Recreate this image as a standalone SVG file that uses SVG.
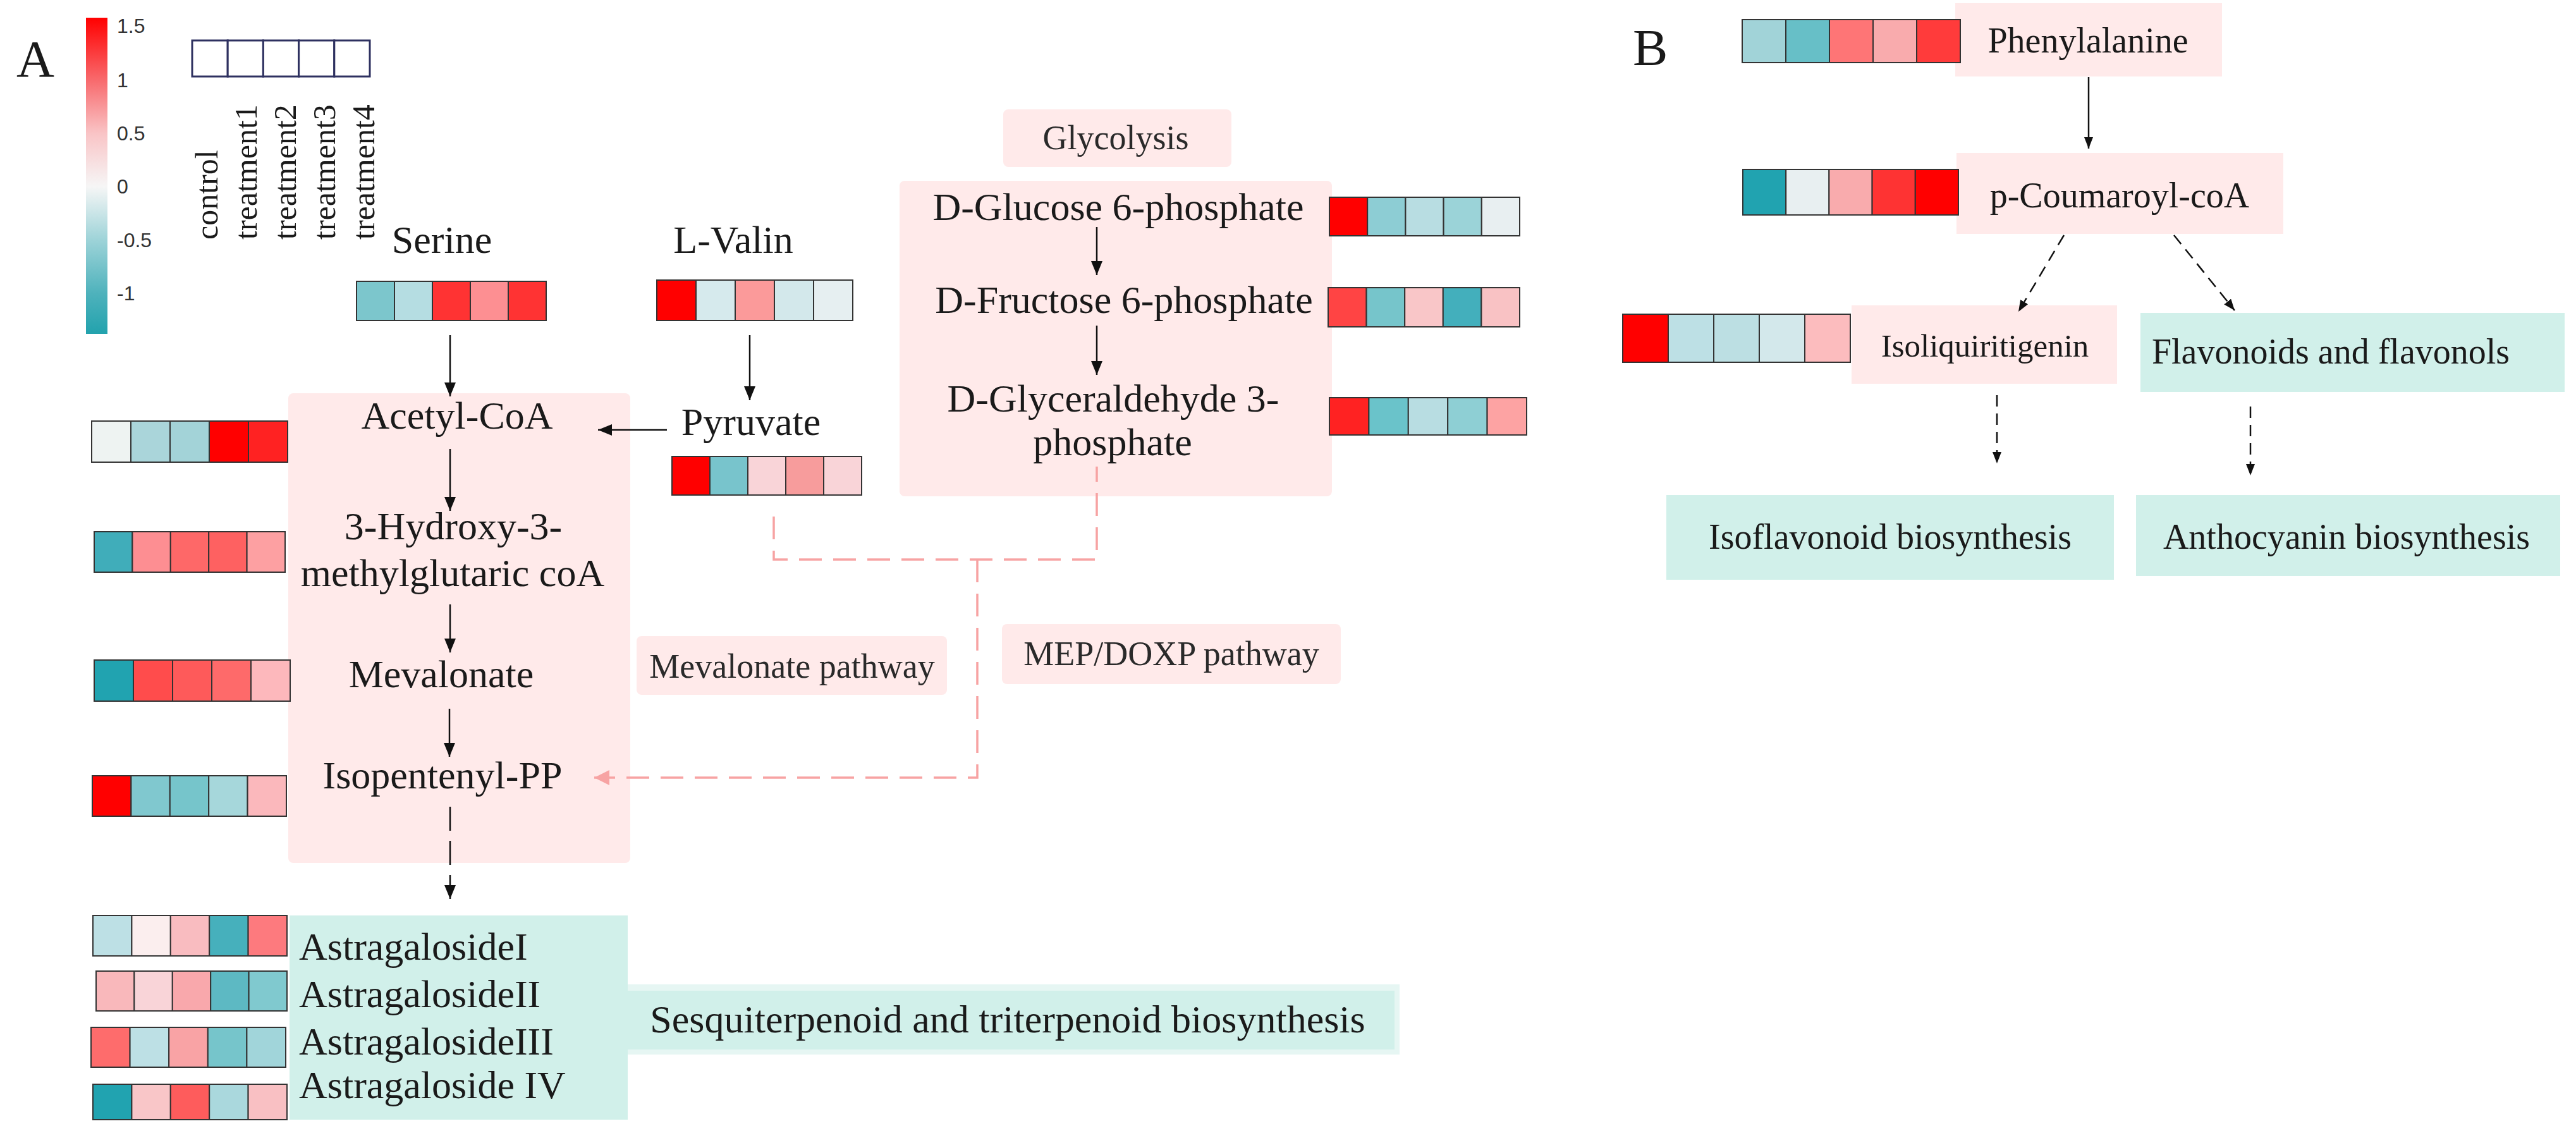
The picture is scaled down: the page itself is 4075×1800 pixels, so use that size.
<svg xmlns="http://www.w3.org/2000/svg" width="4075" height="1800" viewBox="0 0 4075 1800">
<defs>
<linearGradient id="cbar" x1="0" y1="0" x2="0" y2="1">
<stop offset="0" stop-color="#ff0000"/>
<stop offset="0.198" stop-color="#f86a6d"/>
<stop offset="0.366" stop-color="#f9c4c6"/>
<stop offset="0.534" stop-color="#f6f6f6"/>
<stop offset="0.704" stop-color="#9dd3d8"/>
<stop offset="0.872" stop-color="#4eb2bc"/>
<stop offset="1" stop-color="#22a2ad"/>
</linearGradient>
<marker id="ah" markerUnits="userSpaceOnUse" markerWidth="22" markerHeight="18" refX="22" refY="9" orient="auto">
<path d="M0,0 L22,9 L0,18 z" fill="#111"/>
</marker>
<marker id="ahs" markerUnits="userSpaceOnUse" markerWidth="18" markerHeight="14" refX="18" refY="7" orient="auto">
<path d="M0,0 L18,7 L0,14 z" fill="#111"/>
</marker>
<marker id="ahp" markerUnits="userSpaceOnUse" markerWidth="24" markerHeight="24" refX="24" refY="12" orient="auto">
<path d="M0,0 L24,12 L0,24 z" fill="#f7a3a3"/>
</marker>
</defs>
<style>
.t{font-family:"Liberation Serif","Times New Roman",serif;fill:#1a1a1a;}
.m{font-size:62px;text-anchor:middle;}
.ms{font-size:62px;}
.p{font-size:54px;text-anchor:middle;fill:#2a2a2a;}
.b{font-size:56px;text-anchor:middle;}
.lg{font-size:50px;}
.tick{font-family:"Liberation Sans",Arial,sans-serif;font-size:32px;fill:#333;}
.pink{fill:#ffeaea;}
.teal{fill:#d1f0ea;}
.hm rect{stroke:#333;stroke-width:2;}
.ar{stroke:#111;stroke-width:2.5;fill:none;}
.dar{stroke:#111;stroke-width:2.5;fill:none;stroke-dasharray:38 16;}
.dsm{stroke:#111;stroke-width:2.5;fill:none;stroke-dasharray:18 11;}
.pd{stroke:#f7a3a3;stroke-width:3.5;fill:none;stroke-dasharray:36 18;}
</style>
<rect x="0" y="0" width="4075" height="1800" fill="#ffffff"/>

<!-- Panel labels -->
<text class="t" x="26" y="121" font-size="83">A</text>
<text class="t" x="2583" y="103" font-size="83">B</text>

<!-- Legend -->
<g id="legend">
<rect x="136" y="28" width="34" height="500" fill="url(#cbar)"/>
<text class="tick" x="185" y="52">1.5</text>
<text class="tick" x="185" y="138">1</text>
<text class="tick" x="185" y="222">0.5</text>
<text class="tick" x="185" y="306">0</text>
<text class="tick" x="185" y="391">-0.5</text>
<text class="tick" x="185" y="475">-1</text>
<g fill="#ffffff" stroke="#2e3160" stroke-width="3">
<rect x="304" y="64" width="56.2" height="57"/>
<rect x="360.2" y="64" width="56.2" height="57"/>
<rect x="416.4" y="64" width="56.2" height="57"/>
<rect x="472.6" y="64" width="56.2" height="57"/>
<rect x="528.8" y="64" width="56.2" height="57"/>
</g>
<text class="t lg" transform="translate(344,379) rotate(-90)">control</text>
<text class="t lg" transform="translate(406,379) rotate(-90)">treatment1</text>
<text class="t lg" transform="translate(468,379) rotate(-90)">treatment2</text>
<text class="t lg" transform="translate(530,379) rotate(-90)">treatment3</text>
<text class="t lg" transform="translate(592,379) rotate(-90)">treatment4</text>
</g>

<!-- Background boxes -->
<g id="mevalonate-box"><rect class="pink" x="456" y="622" width="541" height="743" rx="8"/></g>
<g id="glycolysis-box"><rect class="pink" x="1423" y="286" width="684" height="499" rx="8"/></g>
<g id="astragaloside-box"><rect class="teal" x="458" y="1448" width="535" height="323"/></g>

<!-- Serine -->
<g id="serine">
<text class="t m" x="699" y="400">Serine</text>
<g class="hm">
<rect x="564" y="445" width="60" height="62" fill="#7cc6cc"/>
<rect x="624" y="445" width="60" height="62" fill="#b5dde2"/>
<rect x="684" y="445" width="60" height="62" fill="#ff3333"/>
<rect x="744" y="445" width="60" height="62" fill="#fd8f92"/>
<rect x="804" y="445" width="60" height="62" fill="#ff3333"/>
</g>
</g>

<!-- L-Valin -->
<g id="l-valin">
<text class="t m" x="1160" y="400">L-Valin</text>
<g class="hm">
<rect x="1039" y="443" width="62" height="64" fill="#ff0000"/>
<rect x="1101" y="443" width="62" height="64" fill="#d6eaed"/>
<rect x="1163" y="443" width="62" height="64" fill="#fb9a9a"/>
<rect x="1225" y="443" width="62" height="64" fill="#d3e8eb"/>
<rect x="1287" y="443" width="62" height="64" fill="#e6eff1"/>
</g>
</g>

<!-- Pyruvate -->
<g id="pyruvate">
<text class="t m" x="1188" y="688">Pyruvate</text>
<g class="hm">
<rect x="1063" y="722" width="60" height="61" fill="#ff0000"/>
<rect x="1123" y="722" width="60" height="61" fill="#78c4cc"/>
<rect x="1183" y="722" width="60" height="61" fill="#f9d4d8"/>
<rect x="1243" y="722" width="60" height="61" fill="#f79c9c"/>
<rect x="1303" y="722" width="60" height="61" fill="#f9d4d8"/>
</g>
</g>

<!-- Acetyl-CoA -->
<g id="acetyl-coa">
<text class="t m" x="723" y="678">Acetyl-CoA</text>
<g class="hm">
<rect x="145" y="666" width="62" height="65" fill="#eef3f2"/>
<rect x="207" y="666" width="62" height="65" fill="#aad5da"/>
<rect x="269" y="666" width="62" height="65" fill="#a3d3d8"/>
<rect x="331" y="666" width="62" height="65" fill="#ff0000"/>
<rect x="393" y="666" width="62" height="65" fill="#ff2222"/>
</g>
</g>

<!-- HMG-CoA -->
<g id="hmg-coa">
<text class="t m" x="717" y="853">3-Hydroxy-3-</text>
<text class="t m" x="716" y="927">methylglutaric coA</text>
<g class="hm">
<rect x="149" y="841" width="60.4" height="64" fill="#40adba"/>
<rect x="209.4" y="841" width="60.4" height="64" fill="#fd8e92"/>
<rect x="269.8" y="841" width="60.4" height="64" fill="#fe6868"/>
<rect x="330.2" y="841" width="60.4" height="64" fill="#fe6161"/>
<rect x="390.6" y="841" width="60.4" height="64" fill="#fda0a2"/>
</g>
</g>

<!-- Mevalonate -->
<g id="mevalonate">
<text class="t m" x="698" y="1087">Mevalonate</text>
<g class="hm">
<rect x="149" y="1044" width="62" height="65" fill="#21a3b0"/>
<rect x="211" y="1044" width="62" height="65" fill="#ff4c4c"/>
<rect x="273" y="1044" width="62" height="65" fill="#fe5a5a"/>
<rect x="335" y="1044" width="62" height="65" fill="#fe6a6a"/>
<rect x="397" y="1044" width="62" height="65" fill="#fdb8bc"/>
</g>
</g>

<!-- Isopentenyl-PP -->
<g id="isopentenyl-pp">
<text class="t m" x="700" y="1247">Isopentenyl-PP</text>
<g class="hm">
<rect x="146" y="1227" width="61.4" height="64" fill="#ff0000"/>
<rect x="207.4" y="1227" width="61.4" height="64" fill="#80c8cf"/>
<rect x="268.8" y="1227" width="61.4" height="64" fill="#76c5cb"/>
<rect x="330.2" y="1227" width="61.4" height="64" fill="#a6d7db"/>
<rect x="391.6" y="1227" width="61.4" height="64" fill="#fbb8bc"/>
</g>
</g>

<!-- Glycolysis -->
<g id="glycolysis-label">
<rect class="pink" x="1587" y="173" width="361" height="91" rx="8"/>
<text class="t p" x="1765" y="236">Glycolysis</text>
</g>
<g id="glucose-6p">
<text class="t m" x="1769" y="348">D-Glucose 6-phosphate</text>
<g class="hm">
<rect x="2103" y="312" width="60.2" height="61" fill="#ff0000"/>
<rect x="2163.2" y="312" width="60.2" height="61" fill="#8dcdd4"/>
<rect x="2223.4" y="312" width="60.2" height="61" fill="#b8dde2"/>
<rect x="2283.6" y="312" width="60.2" height="61" fill="#9bd3d8"/>
<rect x="2343.8" y="312" width="60.2" height="61" fill="#e8eff1"/>
</g>
</g>
<g id="fructose-6p">
<text class="t m" x="1778" y="495">D-Fructose 6-phosphate</text>
<g class="hm">
<rect x="2101" y="455" width="60.6" height="62" fill="#ff4444"/>
<rect x="2161.6" y="455" width="60.6" height="62" fill="#76c5cb"/>
<rect x="2222.2" y="455" width="60.6" height="62" fill="#f9c6c8"/>
<rect x="2282.8" y="455" width="60.6" height="62" fill="#43afbc"/>
<rect x="2343.4" y="455" width="60.6" height="62" fill="#f9c2c4"/>
</g>
</g>
<g id="glyceraldehyde-3p">
<text class="t m" x="1761" y="651">D-Glyceraldehyde 3-</text>
<text class="t m" x="1760" y="720">phosphate</text>
<g class="hm">
<rect x="2103" y="629" width="62.4" height="59" fill="#ff2222"/>
<rect x="2165.4" y="629" width="62.4" height="59" fill="#6ac3ca"/>
<rect x="2227.8" y="629" width="62.4" height="59" fill="#b8dde2"/>
<rect x="2290.2" y="629" width="62.4" height="59" fill="#8ecfd4"/>
<rect x="2352.6" y="629" width="62.4" height="59" fill="#fda3a3"/>
</g>
</g>

<!-- Pathway labels -->
<g id="mevalonate-pathway">
<rect class="pink" x="1007" y="1006" width="491" height="93" rx="8"/>
<text class="t p" x="1253" y="1072">Mevalonate pathway</text>
</g>
<g id="mep-doxp-pathway">
<rect class="pink" x="1585" y="987" width="536" height="95" rx="8"/>
<text class="t p" x="1853" y="1052">MEP/DOXP pathway</text>
</g>

<!-- Astragalosides -->
<g id="astragaloside-i">
<text class="t ms" x="473" y="1518">AstragalosideI</text>
<g class="hm">
<rect x="147" y="1448" width="61.4" height="64" fill="#bde0e5"/>
<rect x="208.4" y="1448" width="61.4" height="64" fill="#fbeeee"/>
<rect x="269.8" y="1448" width="61.4" height="64" fill="#f9bcc0"/>
<rect x="331.2" y="1448" width="61.4" height="64" fill="#46b0bc"/>
<rect x="392.6" y="1448" width="61.4" height="64" fill="#fd7a7e"/>
</g>
</g>
<g id="astragaloside-ii">
<text class="t ms" x="473" y="1593">AstragalosideII</text>
<g class="hm">
<rect x="152" y="1536" width="60.4" height="63" fill="#f9b8bb"/>
<rect x="212.4" y="1536" width="60.4" height="63" fill="#f9d4d8"/>
<rect x="272.8" y="1536" width="60.4" height="63" fill="#f9a8ac"/>
<rect x="333.2" y="1536" width="60.4" height="63" fill="#5db9c3"/>
<rect x="393.6" y="1536" width="60.4" height="63" fill="#80c9cf"/>
</g>
</g>
<g id="astragaloside-iii">
<text class="t ms" x="473" y="1668">AstragalosideIII</text>
<g class="hm">
<rect x="144" y="1625" width="61.6" height="63" fill="#fe6c6c"/>
<rect x="205.6" y="1625" width="61.6" height="63" fill="#bde0e5"/>
<rect x="267.2" y="1625" width="61.6" height="63" fill="#f9a3a5"/>
<rect x="328.8" y="1625" width="61.6" height="63" fill="#76c5cb"/>
<rect x="390.4" y="1625" width="61.6" height="63" fill="#a1d5da"/>
</g>
</g>
<g id="astragaloside-iv">
<text class="t ms" x="473" y="1737">Astragaloside IV</text>
<g class="hm">
<rect x="147" y="1715" width="61.4" height="56" fill="#21a3b0"/>
<rect x="208.4" y="1715" width="61.4" height="56" fill="#f9c6c8"/>
<rect x="269.8" y="1715" width="61.4" height="56" fill="#fe5c5c"/>
<rect x="331.2" y="1715" width="61.4" height="56" fill="#aad8dd"/>
<rect x="392.6" y="1715" width="61.4" height="56" fill="#f9c0c3"/>
</g>
</g>

<!-- Sesquiterpenoid -->
<g id="sesquiterpenoid">
<rect x="993" y="1557" width="1221" height="111" fill="#e6f6f3"/>
<rect class="teal" x="993" y="1567" width="1213" height="93"/>
<text class="t m" x="1594" y="1633">Sesquiterpenoid and triterpenoid biosynthesis</text>
</g>

<!-- Panel B -->
<g id="phenylalanine">
<rect class="pink" x="3093" y="5" width="422" height="116"/>
<text class="t b" x="3303" y="83">Phenylalanine</text>
<g class="hm">
<rect x="2756" y="31" width="69" height="68" fill="#a1d3d8"/>
<rect x="2825" y="31" width="69" height="68" fill="#67bfc7"/>
<rect x="2894" y="31" width="69" height="68" fill="#fe7576"/>
<rect x="2963" y="31" width="69" height="68" fill="#f9abad"/>
<rect x="3032" y="31" width="69" height="68" fill="#ff3b3b"/>
</g>
</g>
<g id="p-coumaroyl-coa">
<rect class="pink" x="3095" y="242" width="517" height="128"/>
<text class="t b" x="3353" y="328">p-Coumaroyl-coA</text>
<g class="hm">
<rect x="2757" y="268" width="68.2" height="72" fill="#21a3b0"/>
<rect x="2825.2" y="268" width="68.2" height="72" fill="#e8eff1"/>
<rect x="2893.4" y="268" width="68.2" height="72" fill="#f9abad"/>
<rect x="2961.6" y="268" width="68.2" height="72" fill="#fe3333"/>
<rect x="3029.8" y="268" width="68.2" height="72" fill="#ff0000"/>
</g>
</g>
<g id="isoliquiritigenin">
<rect class="pink" x="2929" y="483" width="420" height="124"/>
<text class="t" x="3140" y="564" font-size="51" text-anchor="middle">Isoliquiritigenin</text>
<g class="hm">
<rect x="2567" y="497" width="72" height="76" fill="#ff0000"/>
<rect x="2639" y="497" width="72" height="76" fill="#bde0e5"/>
<rect x="2711" y="497" width="72" height="76" fill="#bcdfe3"/>
<rect x="2783" y="497" width="72" height="76" fill="#d3e8eb"/>
<rect x="2855" y="497" width="72" height="76" fill="#fcbcbe"/>
</g>
</g>
<g id="flavonoids">
<rect class="teal" x="3386" y="495" width="671" height="125"/>
<text class="t b" x="3687" y="575">Flavonoids and flavonols</text>
</g>
<g id="isoflavonoid">
<rect class="teal" x="2636" y="783" width="708" height="134"/>
<text class="t b" x="2990" y="868">Isoflavonoid biosynthesis</text>
</g>
<g id="anthocyanin">
<rect class="teal" x="3379" y="783" width="671" height="128"/>
<text class="t b" x="3712" y="868">Anthocyanin biosynthesis</text>
</g>

<!-- Connectors -->
<g id="connectors">
<line class="ar" x1="712" y1="530" x2="712" y2="627" marker-end="url(#ah)"/>
<line class="ar" x1="1186" y1="530" x2="1186" y2="633" marker-end="url(#ah)"/>
<line class="ar" x1="1055" y1="680" x2="946" y2="680" stroke-width="4" marker-end="url(#ah)"/>
<line class="ar" x1="712" y1="710" x2="712" y2="808" marker-end="url(#ah)"/>
<line class="ar" x1="712" y1="956" x2="712" y2="1032" marker-end="url(#ah)"/>
<line class="ar" x1="711" y1="1121" x2="711" y2="1197" marker-end="url(#ah)"/>
<line class="ar" x1="1735" y1="359" x2="1735" y2="435" marker-end="url(#ah)"/>
<line class="ar" x1="1735" y1="515" x2="1735" y2="593" marker-end="url(#ah)"/>
<line class="ar" x1="3304" y1="122" x2="3304" y2="235" marker-end="url(#ahs)"/>
<line class="dar" x1="712" y1="1276" x2="712" y2="1422" marker-end="url(#ah)"/>
<line class="dsm" x1="3265" y1="372" x2="3193" y2="493" marker-end="url(#ahs)"/>
<line class="dsm" x1="3439" y1="372" x2="3535" y2="491" marker-end="url(#ahs)"/>
<line class="dsm" x1="3159" y1="625" x2="3159" y2="733" marker-end="url(#ahs)"/>
<line class="dsm" x1="3560" y1="643" x2="3560" y2="752" marker-end="url(#ahs)"/>
<path class="pd" d="M1224,817 V885 H1735 V738"/>
<path class="pd" d="M1546,885 V1230 H940" marker-end="url(#ahp)"/>
</g>
</svg>
